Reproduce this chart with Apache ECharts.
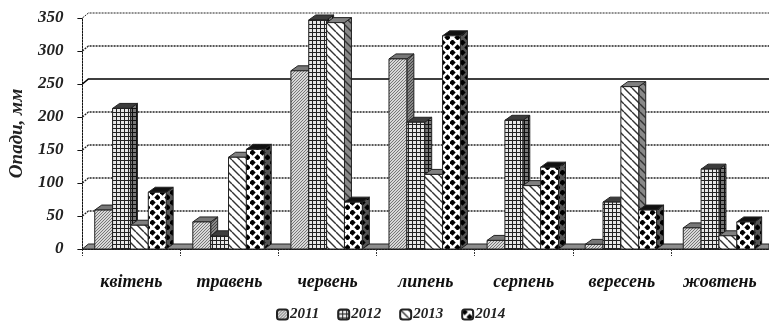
<!DOCTYPE html>
<html><head><meta charset="utf-8">
<style>html,body{margin:0;padding:0;background:#fff}#c{width:769px;height:323px}</style>
<script src="https://cdn.jsdelivr.net/npm/echarts@6/dist/echarts.min.js"></script>
</head><body><div id="c"></div>
<script>
const categories = ['квітень','травень','червень','липень','серпень','вересень','жовтень'];
const years = ['2011','2012','2013','2014'];
const v2011 = [59, 41, 270, 288, 13, 7, 32];
const v2012 = [213, 20, 347, 192, 195, 71, 121];
const v2013 = [36, 139, 343, 113, 96, 246, 20];
const v2014 = [86, 151, 71, 323, 124, 59, 41];
const gridValues = [50, 100, 150, 200, 250, 300, 350];

function tile(w, h, bg, draw) {
  const c = document.createElement('canvas'); c.width = w; c.height = h;
  const g = c.getContext('2d'); g.fillStyle = bg; g.fillRect(0, 0, w, h); draw(g);
  return { image: c, repeat: 'repeat' };
}
function stipple(bg, fg) { return tile(3, 3, bg, g => { g.strokeStyle = fg; g.lineWidth = 1;
  g.beginPath(); g.moveTo(0, 3); g.lineTo(3, 0); g.stroke(); }); }
function squares(bg, fg) { return tile(4, 4, bg, g => { g.fillStyle = fg; g.fillRect(0, 0, 4, 1); g.fillRect(0, 0, 1, 4); }); }
function stripes(bg, fg) { return tile(8, 8, bg, g => { g.strokeStyle = fg; g.lineWidth = 1.4;
  g.beginPath(); for (let i = -8; i <= 8; i += 8) { g.moveTo(i, 0); g.lineTo(i + 8, 8); } g.stroke(); }); }
function diamonds(bg, fg) { return tile(10, 10, bg, g => { g.fillStyle = fg;
  [[2.5, 2.5], [7.5, 7.5]].forEach(p => { g.beginPath(); g.moveTo(p[0], p[1] - 3.2); g.lineTo(p[0] + 3.2, p[1]);
    g.lineTo(p[0], p[1] + 3.2); g.lineTo(p[0] - 3.2, p[1]); g.closePath(); g.fill(); }); }); }

const faces = [
  { front: stipple('#d8d8d8', '#777'), side: stipple('#888', '#444'), top: '#777' },
  { front: squares('#e8e8e8', '#222'), side: squares('#777', '#111'), top: '#3c3c3c' },
  { front: stripes('#fff', '#333'), side: stripes('#888', '#333'), top: '#808080' },
  { front: diamonds('#fff', '#000'), side: diamonds('#555', '#000'), top: '#111' }
];
const DX = 7, DY = 5, BAR_SHARE = 0.182;
const edge = { stroke: '#222', lineWidth: 1 };
const poly = (points, fill) => ({ type: 'polygon', shape: { points }, style: Object.assign({ fill }, edge) });

function barRenderer(k) {
  return function (params, api) {
    const top = api.coord([api.value(0), api.value(1)]);
    const base = api.coord([api.value(0), 0]);
    const band = api.size([1, 0])[0];
    const w = band * BAR_SHARE;
    const x0 = top[0] + (k - 2) * w - 1, x1 = x0 + w, yT = top[1], yB = base[1];
    const f = faces[k];
    return { type: 'group', children: [
      poly([[x1, yB], [x1 + DX, yB - DY], [x1 + DX, yT - DY], [x1, yT]], f.side),
      poly([[x0, yT], [x0 + DX, yT - DY], [x1 + DX, yT - DY], [x1, yT]], f.top),
      poly([[x0, yT], [x1, yT], [x1, yB], [x0, yB]], f.front)
    ] };
  };
}
const allValues = [v2011, v2012, v2013, v2014];
const barSeries = years.map((y, k) => ({
  name: y, type: 'custom', renderItem: barRenderer(k), z: 5 + k, clip: false,
  itemStyle: { color: faces[k].front, borderColor: '#222', borderWidth: 1 },
  encode: { x: 0, y: 1 },
  data: allValues[k].map((v, i) => [i, v])
}));

const wall = {
  name: 'wall', type: 'custom', z: 1, silent: true, clip: false, encode: { y: 0 },
  renderItem(params, api) {
    const val = api.value(0);
    const p = api.coord([0, val]);
    const left = params.coordSys.x;
    const strong = val === 250;
    return { type: 'polyline',
      shape: { points: [[left, p[1]], [left + DX - 1, p[1] - DY], [769, p[1] - DY]] },
      style: { fill: null, stroke: strong ? '#000' : '#222', lineWidth: strong ? 1.6 : (val === 350 ? 1 : 1.3),
        lineDash: strong ? null : [2, 1] } };
  },
  data: gridValues.map(v => [v])
};
const floor = {
  name: 'floor', type: 'custom', z: 2, silent: true, clip: false, encode: { y: 0 },
  renderItem(params, api) {
    const p = api.coord([0, 0]);
    const left = params.coordSys.x;
    return poly([[left, p[1]], [left + DX - 1, p[1] - DY], [769, p[1] - DY], [769, p[1]]], '#8c8c8c');
  },
  data: [[0]]
};

const FONT = '"Liberation Serif", serif';
const chart = echarts.init(document.getElementById('c'));
chart.setOption({
  animation: false,
  backgroundColor: '#fff',
  grid: { left: 82, right: -5, top: 18, bottom: 74 },
  legend: { data: years, left: 271, top: 302, itemWidth: 11, itemHeight: 10, itemGap: 18,
    textStyle: { fontFamily: FONT, fontStyle: 'italic', fontWeight: 'bold', fontSize: 15, color: '#222', padding: [0, 0, 0, -3] } },
  xAxis: { type: 'category', data: categories,
    axisLine: { lineStyle: { color: '#111', type: [2, 1], width: 1 } },
    axisTick: { show: true, length: 7, lineStyle: { color: '#333', type: [2, 1] } },
    axisLabel: { margin: 24, interval: 0, color: '#111', fontFamily: FONT, fontStyle: 'italic', fontWeight: 'bold', fontSize: 18 } },
  yAxis: { type: 'value', min: 0, max: 350, interval: 50, name: 'Опади, мм', nameLocation: 'middle', nameGap: 52, nameRotate: 90,
    nameTextStyle: { fontFamily: FONT, fontStyle: 'italic', fontSize: 19, color: '#222', fontWeight: 'bold' },
    splitLine: { show: false },
    axisLine: { show: true, lineStyle: { color: '#111', type: [2, 1], width: 1 } },
    axisTick: { show: true, length: 5, lineStyle: { color: '#111' } },
    axisLabel: { margin: 19, color: '#222', fontFamily: FONT, fontStyle: 'italic', fontWeight: 'bold', fontSize: 17 } },
  series: [wall, floor].concat(barSeries)
});
</script></body></html>
